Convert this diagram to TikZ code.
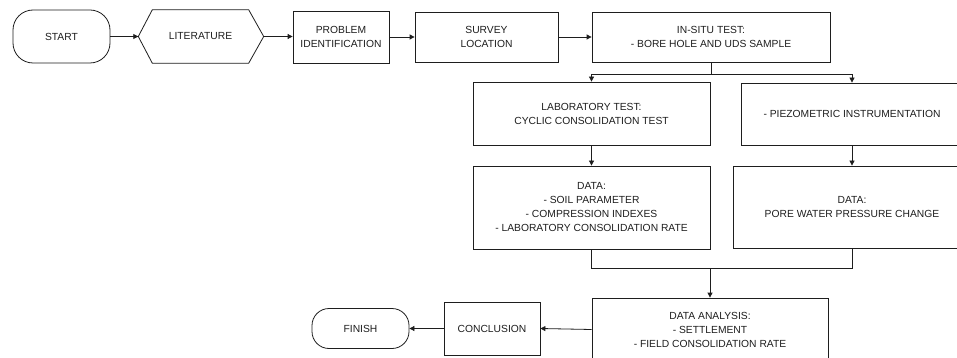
\documentclass[tikz,border=0pt]{standalone}
\usepackage{fontspec}
\setmainfont{Liberation Sans}
\usetikzlibrary{arrows.meta,calc}
\definecolor{ink}{RGB}{30,30,30}
\begin{document}
\begin{tikzpicture}[x=1pt,y=-1pt,
  box/.style={draw=ink,line width=0.8pt,align=center,inner sep=1pt,text=ink,
    font=\fontsize{10.3}{14}\selectfont},
  plain/.style={align=center,inner sep=1pt,text=ink,font=\fontsize{10.3}{14}\selectfont},
  arr/.style={draw=ink,line width=0.8pt,-{Triangle[length=5pt,width=5pt]}},
  ln/.style={draw=ink,line width=0.8pt}]
\useasboundingbox (0,0) rectangle (957,358);
\clip (0,0) rectangle (957,358);
\fill[white] (0,0) rectangle (957,358);
% top row
\node[box,rounded corners=20pt,minimum width=97pt,minimum height=53pt] (start) at (61.5,36.5) {START};
\node[plain,minimum width=96pt,minimum height=53pt] (lit) at (200.5,36.5) {LITERATURE};
\coordinate (litW) at ([xshift=-14pt]lit.west);
\coordinate (litE) at ([xshift=15pt]lit.east);
\draw[ln] (lit.north west) -- (lit.north east) -- (litE) -- (lit.south east) -- (lit.south west) -- (litW) -- cycle;
\node[box,minimum width=96pt,minimum height=52pt] (prob) at (341,37) {PROBLEM\\IDENTIFICATION};
\node[box,minimum width=143pt,minimum height=50pt] (survey) at (486.5,37) {SURVEY\\LOCATION};
\node[box,minimum width=238pt,minimum height=50pt] (insitu) at (711,37) {IN-SITU TEST:\\- BORE HOLE AND UDS SAMPLE};
% second row
\node[box,minimum width=237pt,minimum height=63pt] (lab) at (591.5,113.5) {LABORATORY TEST:\\CYCLIC CONSOLIDATION TEST};
\node[box,minimum width=222pt,minimum height=62pt] (piezo) at (852,114) {- PIEZOMETRIC INSTRUMENTATION};
% third row
\node[box,minimum width=237pt,minimum height=83pt] (datal) at (591.5,207.5) {DATA:\\- SOIL PARAMETER\\- COMPRESSION INDEXES\\- LABORATORY CONSOLIDATION RATE};
\node[box,minimum width=238pt,minimum height=82pt] (datar) at (852,207) {DATA:\\PORE WATER PRESSURE CHANGE};
% bottom row
\node[box,minimum width=236pt,minimum height=63pt] (da) at (710,329.5) {DATA ANALYSIS:\\- SETTLEMENT\\- FIELD CONSOLIDATION RATE};
\node[box,minimum width=96pt,minimum height=53pt] (concl) at (492,328.5) {CONCLUSION};
\node[box,rounded corners=17pt,minimum width=97pt,minimum height=40pt] (finish) at (360.5,328.5) {FINISH};
% connectors
\draw[arr] (start.east) -- (litW);
\draw[arr] (litE) -- (litE -| prob.west);
\draw[arr] (prob.east) -- (prob.east -| survey.west);
\draw[arr] (survey.east) -- (survey.east -| insitu.west);
\coordinate (sp) at ($(insitu.south)+(0,12)$);
\draw[ln] (insitu.south) -- (sp);
\draw[arr] (sp) -| (lab.north);
\draw[arr] (sp) -| (piezo.north);
\draw[arr] (lab.south) -- (datal.north);
\draw[arr] (piezo.south) -- (datar.north);
\coordinate (mg) at (711,268);
\draw[ln] (datal.south) -- (datal.south |- mg) -- (datar.south |- mg) -- (datar.south);
\draw[arr] (da.north |- mg) -- (da.north);
\draw[arr] (da.west) -- (concl.east);
\draw[arr] (concl.west) -- (finish.east);
\end{tikzpicture}
\end{document}
